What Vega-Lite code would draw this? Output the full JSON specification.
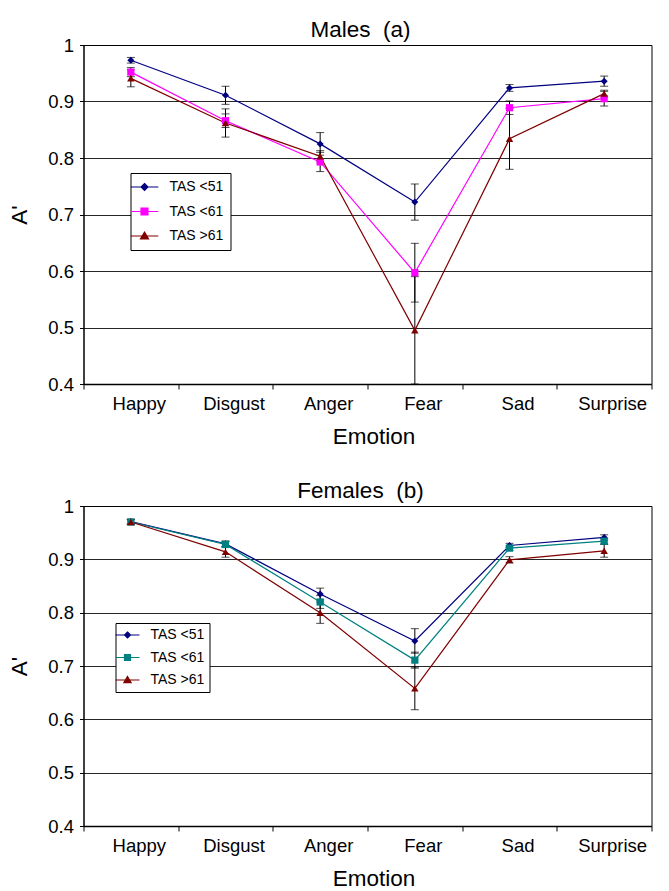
{
  "$schema": "https://vega.github.io/schema/vega-lite/v6.json",
  "background": "white",
  "padding": {"left": 7.5, "top": 18, "right": 17, "bottom": 0},
  "spacing": 30,
  "config": {
    "font": "Liberation Sans",
    "view": {"stroke": "black", "strokeWidth": 1},
    "axis": {"domainColor": "black", "tickColor": "black", "labelColor": "black", "titleColor": "black", "labelFontSize": 18.5, "titleFontSize": 22.5, "titleFontWeight": "normal", "labelFont": "Liberation Sans", "titleFont": "Liberation Sans"},
    "title": {"font": "Liberation Sans", "fontSize": 22.5, "fontWeight": "normal", "color": "black", "baseline": "alphabetic", "offset": -5, "frame": "group", "dx": -7},
    "legend": {"labelFont": "Liberation Sans", "labelColor": "black"}
  },
  "datasets": {
    "males": [
      {"emotion": "Happy", "group": "TAS <51", "value": 0.973, "err": 0.005},
      {"emotion": "Disgust", "group": "TAS <51", "value": 0.911, "err": 0.016},
      {"emotion": "Anger", "group": "TAS <51", "value": 0.825, "err": 0.02},
      {"emotion": "Fear", "group": "TAS <51", "value": 0.722, "err": 0.032},
      {"emotion": "Sad", "group": "TAS <51", "value": 0.924, "err": 0.006},
      {"emotion": "Surprise", "group": "TAS <51", "value": 0.936, "err": 0.009},
      {"emotion": "Happy", "group": "TAS <61", "value": 0.952, "err": 0.008},
      {"emotion": "Disgust", "group": "TAS <61", "value": 0.866, "err": 0.012},
      {"emotion": "Anger", "group": "TAS <61", "value": 0.793, "err": 0.017},
      {"emotion": "Fear", "group": "TAS <61", "value": 0.597, "err": 0.052},
      {"emotion": "Sad", "group": "TAS <61", "value": 0.889, "err": 0.012},
      {"emotion": "Surprise", "group": "TAS <61", "value": 0.905, "err": 0.013},
      {"emotion": "Happy", "group": "TAS >61", "value": 0.941, "err": 0.015},
      {"emotion": "Disgust", "group": "TAS >61", "value": 0.862, "err": 0.025},
      {"emotion": "Anger", "group": "TAS >61", "value": 0.803, "err": 0.01},
      {"emotion": "Fear", "group": "TAS >61", "value": 0.495, "err": 0.095},
      {"emotion": "Sad", "group": "TAS >61", "value": 0.834, "err": 0.054},
      {"emotion": "Surprise", "group": "TAS >61", "value": 0.914, "err": 0.006}
    ],
    "females": [
      {"emotion": "Happy", "group": "TAS <51", "value": 0.971, "err": 0.004},
      {"emotion": "Disgust", "group": "TAS <51", "value": 0.929, "err": 0.005},
      {"emotion": "Anger", "group": "TAS <51", "value": 0.835, "err": 0.011},
      {"emotion": "Fear", "group": "TAS <51", "value": 0.747, "err": 0.023},
      {"emotion": "Sad", "group": "TAS <51", "value": 0.926, "err": 0.004},
      {"emotion": "Surprise", "group": "TAS <51", "value": 0.941, "err": 0.005},
      {"emotion": "Happy", "group": "TAS <61", "value": 0.97, "err": 0.004},
      {"emotion": "Disgust", "group": "TAS <61", "value": 0.928, "err": 0.006},
      {"emotion": "Anger", "group": "TAS <61", "value": 0.82, "err": 0.012},
      {"emotion": "Fear", "group": "TAS <61", "value": 0.711, "err": 0.015},
      {"emotion": "Sad", "group": "TAS <61", "value": 0.921, "err": 0.004},
      {"emotion": "Surprise", "group": "TAS <61", "value": 0.934, "err": 0.005},
      {"emotion": "Happy", "group": "TAS >61", "value": 0.97, "err": 0.005},
      {"emotion": "Disgust", "group": "TAS >61", "value": 0.914, "err": 0.01},
      {"emotion": "Anger", "group": "TAS >61", "value": 0.8, "err": 0.02},
      {"emotion": "Fear", "group": "TAS >61", "value": 0.658, "err": 0.04},
      {"emotion": "Sad", "group": "TAS >61", "value": 0.899, "err": 0.006},
      {"emotion": "Surprise", "group": "TAS >61", "value": 0.916, "err": 0.012}
    ]
  },
  "resolve": {"scale": {"color": "independent"}, "legend": {"color": "independent"}},
  "vconcat": [
    {
      "title": {"text": "Males \u00a0(a)"},
      "width": 568,
      "height": 339,
      "data": {"name": "males"},
      "encoding": {
        "x": {"field": "emotion", "type": "nominal", "sort": ["Happy", "Disgust", "Anger", "Fear", "Sad", "Surprise"], "scale": {"paddingInner": 0, "paddingOuter": 0}, "title": "Emotion", "axis": {"labelAngle": 0, "tickBand": "extent", "grid": false, "tickSize": 5, "labelPadding": 5, "labelOffset": 8, "titlePadding": 13, "titleX": 290, "domainWidth": 1.5}},
        "y": {"field": "value", "type": "quantitative", "scale": {"domain": [0.4, 1], "nice": false, "zero": false}, "title": "A'", "axis": {"values": [0.4, 0.5, 0.6, 0.7, 0.8, 0.9, 1], "format": "~g", "grid": true, "gridColor": "black", "gridOpacity": 0.85, "tickSize": 4, "labelPadding": 6, "titlePadding": 16}},
        "color": {"field": "group", "type": "nominal", "scale": {"domain": ["TAS <51", "TAS <61", "TAS >61"], "range": ["#000080", "#ff00ff", "#800000"]},
          "legend": {"title": null, "orient": "none", "legendX": 47, "legendY": 128, "strokeColor": "black", "fillColor": "white", "padding": 7, "rowPadding": 10.5, "labelFontSize": 14, "symbolSize": 144, "labelOffset": 18,
            "encode": {"symbols": {"update": {
              "shape": {"signal": "datum.value === 'TAS <51' ? 'M-2.3,0H2.3M0,-0.58L0.58,0L0,0.58L-0.58,0Z' : datum.value === 'TAS <61' ? 'M-2.3,0H2.3M-0.58,-0.58H0.58V0.58H-0.58Z' : 'M-2.3,0H2.3M0,-0.65L0.67,0.5H-0.67Z'"},
              "fill": {"signal": "datum.value === 'TAS <51' ? '#000080' : datum.value === 'TAS <61' ? '#ff00ff' : '#800000'"},
              "stroke": {"signal": "datum.value === 'TAS <51' ? '#000080' : datum.value === 'TAS <61' ? '#ff00ff' : '#800000'"},
              "strokeWidth": {"value": 1.2},
              "opacity": {"value": 1}}}}}}
      },
      "layer": [
        {"mark": {"type": "errorbar", "ticks": {"size": 8, "color": "black"}, "rule": {"color": "black", "strokeWidth": 1}, "color": "black"},
         "encoding": {"yError": {"field": "err"}, "color": {"value": "black"}}},
        {"mark": {"type": "line", "strokeWidth": 1.2}},
        {"transform": [{"filter": "datum.group === 'TAS <51'"}], "mark": {"type": "point", "shape": "diamond", "filled": true, "size": 49, "opacity": 1}},
        {"transform": [{"filter": "datum.group === 'TAS <61'"}], "mark": {"type": "point", "shape": "square", "filled": true, "size": 52, "opacity": 1}},
        {"transform": [{"filter": "datum.group === 'TAS >61'"}], "mark": {"type": "point", "shape": "triangle-up", "filled": true, "size": 55, "opacity": 1}}
      ]
    },
    {
      "title": {"text": "Females \u00a0(b)"},
      "width": 568,
      "height": 320,
      "data": {"name": "females"},
      "encoding": {
        "x": {"field": "emotion", "type": "nominal", "sort": ["Happy", "Disgust", "Anger", "Fear", "Sad", "Surprise"], "scale": {"paddingInner": 0, "paddingOuter": 0}, "title": "Emotion", "axis": {"labelAngle": 0, "tickBand": "extent", "grid": false, "tickSize": 5, "labelPadding": 5, "labelOffset": 8, "titlePadding": 13, "titleX": 290, "domainWidth": 1.5}},
        "y": {"field": "value", "type": "quantitative", "scale": {"domain": [0.4, 1], "nice": false, "zero": false}, "title": "A'", "axis": {"values": [0.4, 0.5, 0.6, 0.7, 0.8, 0.9, 1], "format": "~g", "grid": true, "gridColor": "black", "gridOpacity": 0.85, "tickSize": 4, "labelPadding": 6, "titlePadding": 16}},
        "color": {"field": "group", "type": "nominal", "scale": {"domain": ["TAS <51", "TAS <61", "TAS >61"], "range": ["#000080", "#008080", "#800000"]},
          "legend": {"title": null, "orient": "none", "legendX": 32, "legendY": 117, "strokeColor": "black", "fillColor": "white", "padding": 5, "rowPadding": 8.5, "labelFontSize": 14, "symbolSize": 144, "labelOffset": 16,
            "encode": {"symbols": {"update": {
              "shape": {"signal": "datum.value === 'TAS <51' ? 'M-2,0H2M0,-0.5L0.5,0L0,0.5L-0.5,0Z' : datum.value === 'TAS <61' ? 'M-2,0H2M-0.5,-0.5H0.5V0.5H-0.5Z' : 'M-2,0H2M0,-0.58L0.6,0.45H-0.6Z'"},
              "fill": {"signal": "datum.value === 'TAS <51' ? '#000080' : datum.value === 'TAS <61' ? '#008080' : '#800000'"},
              "stroke": {"signal": "datum.value === 'TAS <51' ? '#000080' : datum.value === 'TAS <61' ? '#008080' : '#800000'"},
              "strokeWidth": {"value": 1.2},
              "opacity": {"value": 1}}}}}}
      },
      "layer": [
        {"mark": {"type": "errorbar", "ticks": {"size": 8, "color": "black"}, "rule": {"color": "black", "strokeWidth": 1}, "color": "black"},
         "encoding": {"yError": {"field": "err"}, "color": {"value": "black"}}},
        {"mark": {"type": "line", "strokeWidth": 1.2}},
        {"transform": [{"filter": "datum.group === 'TAS <51'"}], "mark": {"type": "point", "shape": "diamond", "filled": true, "size": 49, "opacity": 1}},
        {"transform": [{"filter": "datum.group === 'TAS <61'"}], "mark": {"type": "point", "shape": "square", "filled": true, "size": 52, "opacity": 1}},
        {"transform": [{"filter": "datum.group === 'TAS >61'"}], "mark": {"type": "point", "shape": "triangle-up", "filled": true, "size": 55, "opacity": 1}}
      ]
    }
  ]
}
